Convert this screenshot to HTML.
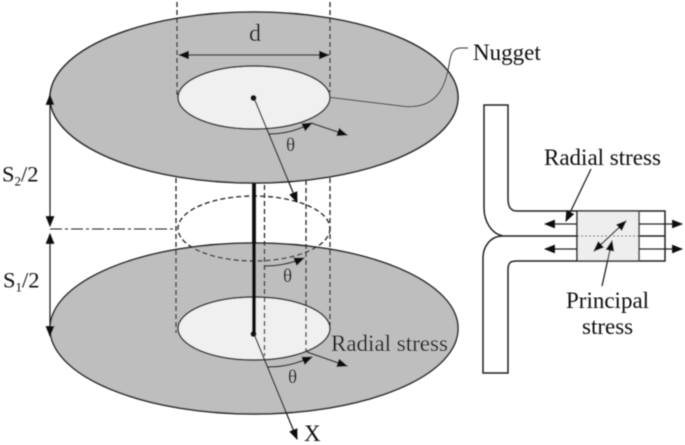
<!DOCTYPE html>
<html><head><meta charset="utf-8"><style>html,body{margin:0;padding:0;background:#fff}svg{display:block}text{font-family:"Liberation Serif",serif;fill:#111}</style></head><body>
<svg width="685" height="445" viewBox="0 0 685 445" xmlns="http://www.w3.org/2000/svg">
<defs>
<marker id="a" viewBox="0 0 10 8" refX="9" refY="4" markerWidth="11" markerHeight="9" markerUnits="userSpaceOnUse" orient="auto-start-reverse"><path d="M0 0L10 4L0 8Z" fill="#111"/></marker>
<filter id="b" x="-5%" y="-5%" width="110%" height="110%"><feGaussianBlur stdDeviation="0.45"/></filter>
</defs>
<g filter="url(#b)">
<!-- lower disc -->
<ellipse cx="254" cy="328.5" rx="204" ry="85.5" fill="#bebebe" stroke="#222" stroke-width="1.5"/>
<ellipse cx="254" cy="328.5" rx="76" ry="31.5" fill="#f0f0f0" stroke="#222" stroke-width="1.5"/>
<!-- dashed verticals -->
<g stroke="#222" stroke-width="1.3" stroke-dasharray="5 3" fill="none">
<line x1="176" y1="178" x2="176" y2="333"/>
<line x1="330" y1="178" x2="330" y2="325"/>
<line x1="264.500" y1="185" x2="264.500" y2="356"/>
<line x1="306" y1="180" x2="306" y2="352"/>
<ellipse cx="254" cy="228.500" rx="76" ry="32.500"/>
</g>
<line x1="254" y1="183" x2="254" y2="334" stroke="#111" stroke-width="3.800"/>
<circle cx="253.500" cy="334" r="3" fill="#111"/>
<!-- upper disc -->
<ellipse cx="254" cy="97.500" rx="204" ry="85.500" fill="#bebebe" stroke="#222" stroke-width="1.600"/>
<ellipse cx="254" cy="97.500" rx="76" ry="31.500" fill="#f0f0f0" stroke="#222" stroke-width="1.500"/>
<circle cx="253.500" cy="98" r="3" fill="#111"/>
<g stroke="#222" stroke-width="1.300" stroke-dasharray="5 3" fill="none">
<line x1="177" y1="2" x2="177" y2="97"/>
<line x1="330" y1="2" x2="330" y2="92"/>
</g>
<!-- d -->
<line x1="179" y1="55" x2="329" y2="55" stroke="#222" stroke-width="1.300" marker-start="url(#a)" marker-end="url(#a)"/>
<!-- nugget leader -->
<path d="M331 97.500L405 106.500C425 108 441 100 447 74C451 62 448 48 461 48L468 48" fill="none" stroke="#333" stroke-width="1"/>
<!-- axis -->
<line x1="254" y1="98" x2="297" y2="202" stroke="#222" stroke-width="1.300" marker-end="url(#a)"/>
<line x1="254" y1="334" x2="297" y2="439" stroke="#222" stroke-width="1.300" marker-end="url(#a)"/>
<!-- theta arcs and radial arrows -->
<g fill="none" stroke="#222" stroke-width="1.300">
<path d="M269 134C285 134 298 130 312 123" marker-end="url(#a)"/>
<line x1="311" y1="123" x2="347" y2="135" marker-end="url(#a)"/>
<path d="M265 266C280 266 292 263 304 258" marker-end="url(#a)"/>
<path d="M268 367C285 367 298 363 312 357" marker-end="url(#a)"/>
<line x1="307" y1="352" x2="347" y2="366" marker-end="url(#a)"/>
</g>
<!-- S dims -->
<line x1="50" y1="95" x2="50" y2="226" stroke="#222" stroke-width="1.300" marker-start="url(#a)" marker-end="url(#a)"/>
<line x1="50" y1="234" x2="50" y2="336" stroke="#222" stroke-width="1.300" marker-start="url(#a)" marker-end="url(#a)"/>
<line x1="50" y1="229" x2="176" y2="229" stroke="#222" stroke-width="1" stroke-dasharray="12 3 3 3"/>
<!-- labels -->
<text x="249" y="41" font-size="24">d</text>
<text x="473" y="60" font-size="23">Nugget</text>
<text x="286" y="151" font-size="19">θ</text>
<text x="283" y="282" font-size="19">θ</text>
<text x="288" y="383" font-size="19">θ</text>
<text x="2" y="181.500" font-size="22.500">S<tspan font-size="13" dy="4">2</tspan><tspan dy="-4">/2</tspan></text>
<text x="3" y="287.500" font-size="22.500">S<tspan font-size="13" dy="4">1</tspan><tspan dy="-4">/2</tspan></text>
<text x="331" y="351" font-size="23">Radial stress</text>
<text x="304" y="441" font-size="23">X</text>
<!-- right figure -->
<rect x="577" y="211" width="62" height="50" fill="#eeeeee"/>
<path d="M484 105H508V198C508 206 510 211 517 211H665V261H517C510 261 508 263 508 270V373H483V258C483 247 490 236 503 236C492 234 484 222 484 208Z" fill="none" stroke="#222" stroke-width="1.500"/>
<line x1="503" y1="236" x2="577" y2="236" stroke="#222" stroke-width="1.500"/>
<line x1="639" y1="236" x2="665" y2="236" stroke="#222" stroke-width="1.500"/>
<line x1="577" y1="236" x2="639" y2="236" stroke="#444" stroke-width="1" stroke-dasharray="2 2"/>
<line x1="577" y1="211" x2="577" y2="261" stroke="#222" stroke-width="1.500"/>
<line x1="639" y1="211" x2="639" y2="261" stroke="#444" stroke-width="1.500"/>
<g stroke="#222" stroke-width="1.300" fill="none">
<line x1="577" y1="224" x2="545" y2="224" marker-end="url(#a)"/>
<line x1="577" y1="249" x2="545" y2="249" marker-end="url(#a)"/>
<line x1="639" y1="224" x2="682" y2="224" marker-end="url(#a)"/>
<line x1="639" y1="249" x2="682" y2="249" marker-end="url(#a)"/>
<line x1="594" y1="251" x2="626" y2="221" marker-start="url(#a)" marker-end="url(#a)"/>
<line x1="591" y1="169" x2="566" y2="221" marker-end="url(#a)"/>
<line x1="602" y1="286" x2="612" y2="241" marker-end="url(#a)"/>
</g>
<text x="544" y="165" font-size="23">Radial stress</text>
<text x="566" y="308" font-size="23">Principal</text>
<text x="582" y="334" font-size="23">stress</text>
</g>
</svg>
</body></html>
